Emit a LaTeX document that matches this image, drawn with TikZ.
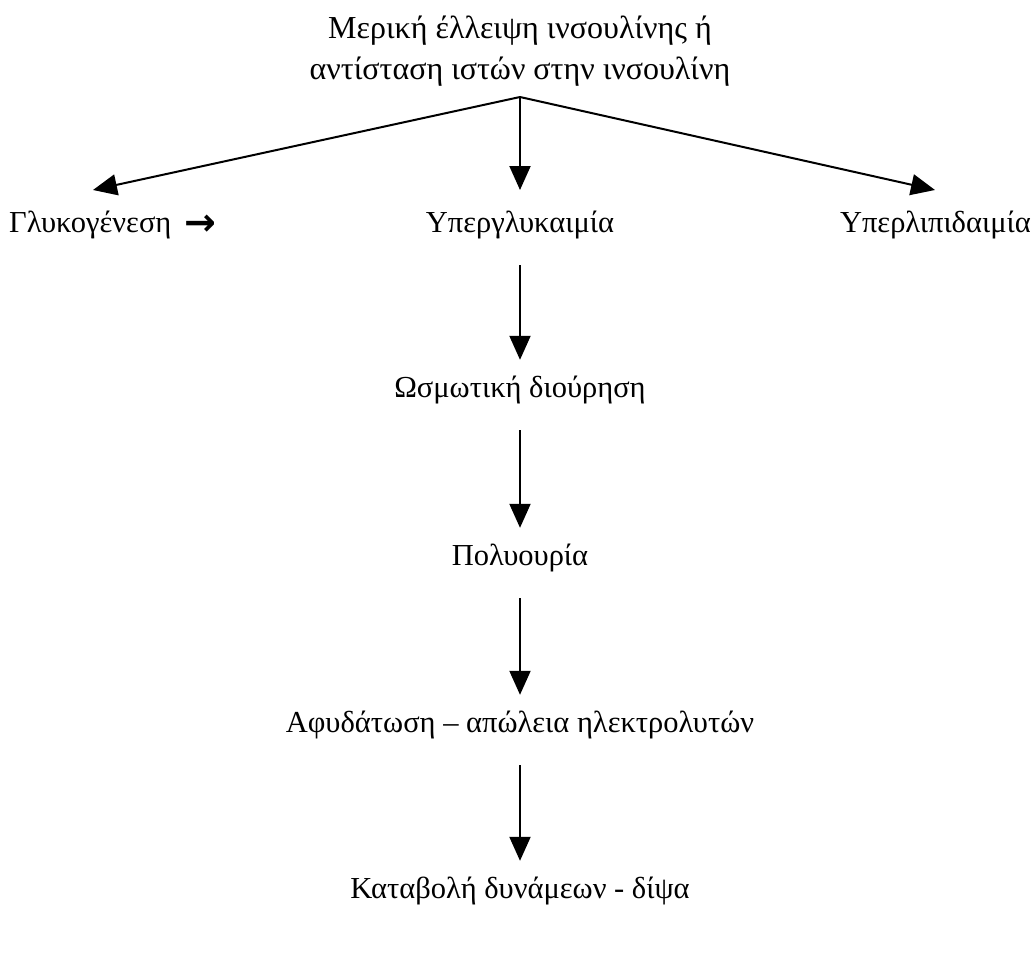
\documentclass[tikz,border=0pt]{standalone}
\usepackage{fontspec}
\setmainfont{Liberation Serif}
\newfontfamily\arrowfont{DejaVu Sans}
\usetikzlibrary{arrows.meta}

\begin{document}
\begin{tikzpicture}[x=1pt, y=-1pt,
    every node/.style={font=\fontsize{30.5}{41}\selectfont, inner sep=0pt},
    stage/.style={anchor=base, text height=20pt, text depth=7pt},
    branch/.style={line width=2pt, -{Triangle[length=24pt, width=21pt]}},
    flow/.style={branch, shorten <=26pt, shorten >=17pt}]
  \useasboundingbox (0,0) rectangle (1036,961);
  \node[align=center, anchor=base, font=\fontsize{32}{41}\selectfont] (cause) at (520,79) {Μερική έλλειψη ινσουλίνης ή\\αντίσταση ιστών στην ινσουλίνη};
  \coordinate (split) at (520,97);
  \coordinate (glykotip) at (93,190);
  \coordinate (hypertip) at (520,190);
  \coordinate (lipidtip) at (935,190);
  \node[stage, anchor=base west] (glyko) at (9,232) {Γλυκογένεση\, \raisebox{-3pt}{\arrowfont\fontsize{38}{38}\selectfont\bfseries →}};
  \node[stage] (hyper) at (520,232) {Υπεργλυκαιμία};
  \node[stage, anchor=base east] (lipid) at (1031,232) {Υπερλιπιδαιμία};
  \node[stage] (osmo) at (520,397) {Ωσμωτική διούρηση};
  \node[stage] (poly) at (520,565) {Πολυουρία};
  \node[stage] (dehyd) at (520,732) {Αφυδάτωση – απώλεια ηλεκτρολυτών};
  \node[stage] (fatigue) at (520,898) {Καταβολή δυνάμεων - δίψα};
  \draw[branch] (split) -- (glykotip);
  \draw[branch] (split) -- (hypertip);
  \draw[branch] (split) -- (lipidtip);
  \draw[flow] (hyper) -- (osmo);
  \draw[flow] (osmo) -- (poly);
  \draw[flow] (poly) -- (dehyd);
  \draw[flow] (dehyd) -- (fatigue);
\end{tikzpicture}
\end{document}
